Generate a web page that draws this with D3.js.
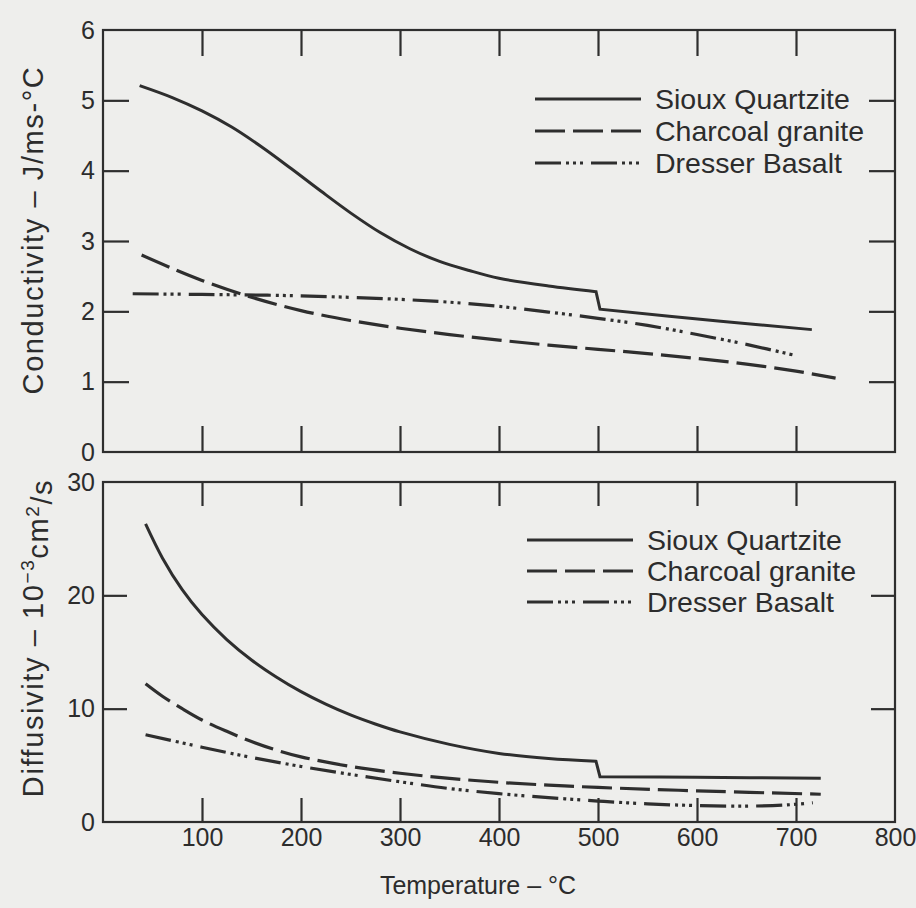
<!DOCTYPE html>
<html>
<head>
<meta charset="utf-8">
<script src="https://cdn.jsdelivr.net/npm/d3@7/dist/d3.min.js"></script>
<style>
  html, body { margin: 0; padding: 0; background: #eeeeec; }
  svg { display: block; }
  text { font-family: "Liberation Sans", Arial, Helvetica, sans-serif; fill: #2c2c2c; }
</style>
</head>
<body>
<svg id="chart" width="916" height="908"></svg>
<script>
// ---- Thermal conductivity (J/ms-°C) vs temperature (°C) ----
const siouxCondT    = [37, 70, 100, 130, 160, 190, 220, 250, 280, 310, 340, 370, 400, 450, 498];
const siouxCondV    = [5.21, 5.04, 4.85, 4.62, 4.34, 4.03, 3.71, 3.40, 3.12, 2.89, 2.71, 2.58, 2.47, 2.36, 2.28];
const siouxCondT2   = [502, 624, 716];
const siouxCondV2   = [2.03, 1.86, 1.74];
const charcoalCondT = [39, 70, 100, 150, 200, 250, 300, 350, 400, 450, 500, 550, 600, 650, 700, 740];
const charcoalCondV = [2.80, 2.61, 2.44, 2.20, 2.01, 1.87, 1.76, 1.67, 1.59, 1.52, 1.46, 1.40, 1.33, 1.25, 1.15, 1.05];
const dresserCondT  = [30, 100, 200, 300, 350, 400, 450, 500, 550, 600, 650, 700];
const dresserCondV  = [2.25, 2.24, 2.22, 2.17, 2.13, 2.07, 1.99, 1.90, 1.80, 1.67, 1.53, 1.37];

// ---- Thermal diffusivity (10^-3 cm^2/s) vs temperature (°C) ----
const siouxDiffT    = [43, 60, 80, 100, 125, 150, 175, 200, 225, 250, 275, 300, 350, 400, 450, 498];
const siouxDiffV    = [26.3, 23.3, 20.5, 18.3, 16.1, 14.3, 12.8, 11.5, 10.4, 9.45, 8.65, 7.95, 6.85, 6.05, 5.6, 5.35];
const siouxDiffT2   = [502, 600, 725];
const siouxDiffV2   = [4.0, 3.95, 3.85];
const charcoalDiffT = [43, 60, 80, 100, 125, 150, 175, 200, 250, 300, 350, 400, 450, 500, 600, 725];
const charcoalDiffV = [12.2, 11.1, 10.0, 9.0, 8.0, 7.1, 6.35, 5.75, 4.9, 4.3, 3.85, 3.5, 3.25, 3.05, 2.75, 2.45];
const dresserDiffT  = [43, 100, 150, 200, 250, 300, 350, 400, 450, 500, 550, 600, 650, 690, 717];
const dresserDiffV  = [7.7, 6.6, 5.7, 4.9, 4.2, 3.55, 2.95, 2.5, 2.15, 1.85, 1.6, 1.45, 1.4, 1.5, 1.7];

// ---- Axis ticks and labels ----
const xTickValues    = [100, 200, 300, 400, 500, 600, 700];
const xLabelValues   = [100, 200, 300, 400, 500, 600, 700, 800];
const condTickValues = [0, 1, 2, 3, 4, 5, 6];
const diffTickValues = [0, 10, 20, 30];
const seriesNames    = ["Sioux Quartzite", "Charcoal granite", "Dresser Basalt"];

const INK = "#2e2e2e";
const dashCharcoal = "30 8";
const dashDresser  = "26 5 3 4 3 4 3 8";
const seriesDash   = [null, dashCharcoal, dashDresser];

const svg = d3.select("#chart");

const x = d3.scaleLinear().domain([0, 800]).range([103, 895]);
const yCond = d3.scaleLinear().domain([0, 6]).range([452, 30]);
const yDiff = d3.scaleLinear().domain([0, 30]).range([822, 482]);

const zip = (ts, vs) => ts.map((t, i) => ({t, v: vs[i]}));

function drawPanel(y, tickVals, innerTicks, tickLen, series) {
  const g = svg.append("g");
  const [y0, y1] = y.range();

  // frame
  g.append("rect")
    .attr("x", x(0)).attr("y", y1)
    .attr("width", x(800) - x(0)).attr("height", y0 - y1)
    .attr("fill", "none").attr("stroke", INK).attr("stroke-width", 2.2);

  // inward ticks on all four sides
  const styleAxis = sel => {
    sel.select(".domain").remove();
    sel.selectAll(".tick line").attr("stroke", INK).attr("stroke-width", 2.2);
  };
  g.append("g").attr("transform", `translate(0,${y1})`)
    .call(d3.axisTop(x).tickValues(xTickValues).tickSize(-tickLen).tickFormat(""))
    .call(styleAxis);
  g.append("g").attr("transform", `translate(0,${y0})`)
    .call(d3.axisBottom(x).tickValues(xTickValues).tickSize(-tickLen).tickFormat(""))
    .call(styleAxis);
  g.append("g").attr("transform", `translate(${x(0)},0)`)
    .call(d3.axisLeft(y).tickValues(tickVals).tickSize(-tickLen).tickPadding(8).tickFormat(d3.format("d")))
    .call(styleAxis)
    .call(s => s.selectAll(".tick line").filter(d => !innerTicks.includes(d)).remove())
    .call(s => s.selectAll(".tick text").attr("font-size", 25).attr("fill", "#2c2c2c"));
  g.append("g").attr("transform", `translate(${x(800)},0)`)
    .call(d3.axisRight(y).tickValues(innerTicks).tickSize(-tickLen).tickFormat(""))
    .call(styleAxis);

  // curves (the Sioux Quartzite curve has a step at 500 °C)
  const line = d3.line().x(d => x(d.t)).y(d => y(d.v)).curve(d3.curveCatmullRom.alpha(0.5));
  series.forEach((s, i) => {
    let d = line(s.a);
    if (s.b) d += line(s.b).replace(/^M/, "L");
    g.append("path")
      .attr("d", d)
      .attr("fill", "none")
      .attr("stroke", INK)
      .attr("stroke-width", i === 0 ? 3 : 3.2)
      .attr("stroke-linejoin", "miter")
      .attr("stroke-dasharray", seriesDash[i]);
  });
  return g;
}

function drawLegend(x0, yTop, step) {
  const g = svg.append("g");
  seriesNames.forEach((name, i) => {
    const yy = yTop + i * step;
    g.append("line")
      .attr("x1", x0).attr("x2", x0 + 106)
      .attr("y1", yy).attr("y2", yy)
      .attr("stroke", INK).attr("stroke-width", 3)
      .attr("stroke-dasharray", seriesDash[i]);
    g.append("text")
      .attr("x", x0 + 120).attr("y", yy)
      .attr("dy", "0.35em")
      .attr("font-size", 28.5)
      .text(name);
  });
}

// upper panel: conductivity
drawPanel(yCond, condTickValues, [1, 2, 3, 4, 5], 26, [
  {a: zip(siouxCondT, siouxCondV), b: zip(siouxCondT2, siouxCondV2)},
  {a: zip(charcoalCondT, charcoalCondV)},
  {a: zip(dresserCondT, dresserCondV)}
]);
drawLegend(535, 99, 32);

// lower panel: diffusivity
drawPanel(yDiff, diffTickValues, [10, 20], 24, [
  {a: zip(siouxDiffT, siouxDiffV), b: zip(siouxDiffT2, siouxDiffV2)},
  {a: zip(charcoalDiffT, charcoalDiffV)},
  {a: zip(dresserDiffT, dresserDiffV)}
]);
drawLegend(527, 540, 31);

// temperature labels under lower panel
svg.append("g")
  .attr("transform", `translate(0,${yDiff(0)})`)
  .call(d3.axisBottom(x).tickValues(xLabelValues).tickSize(0).tickPadding(6))
  .call(s => s.select(".domain").remove())
  .call(s => s.selectAll(".tick text").attr("font-size", 25).attr("fill", "#2c2c2c"));

// axis titles
svg.append("text")
  .attr("x", 478).attr("y", 894)
  .attr("text-anchor", "middle")
  .attr("font-size", 25)
  .text("Temperature – °C");

svg.append("text")
  .attr("transform", "translate(43,230) rotate(-90)")
  .attr("text-anchor", "middle")
  .attr("font-size", 29)
  .attr("letter-spacing", 1.6)
  .text("Conductivity – J/ms-°C");

const diffTitle = svg.append("text")
  .attr("transform", "translate(43,638) rotate(-90)")
  .attr("text-anchor", "middle")
  .attr("font-size", 29)
  .attr("letter-spacing", 1.6);
diffTitle.append("tspan").text("Diffusivity – 10");
diffTitle.append("tspan").attr("dy", "-0.45em").attr("font-size", 19).text("−3");
diffTitle.append("tspan").attr("dy", "0.45em").text("cm");
diffTitle.append("tspan").attr("dy", "-0.45em").attr("font-size", 19).text("2");
diffTitle.append("tspan").attr("dy", "0.45em").text("/s");
</script>
</body>
</html>
